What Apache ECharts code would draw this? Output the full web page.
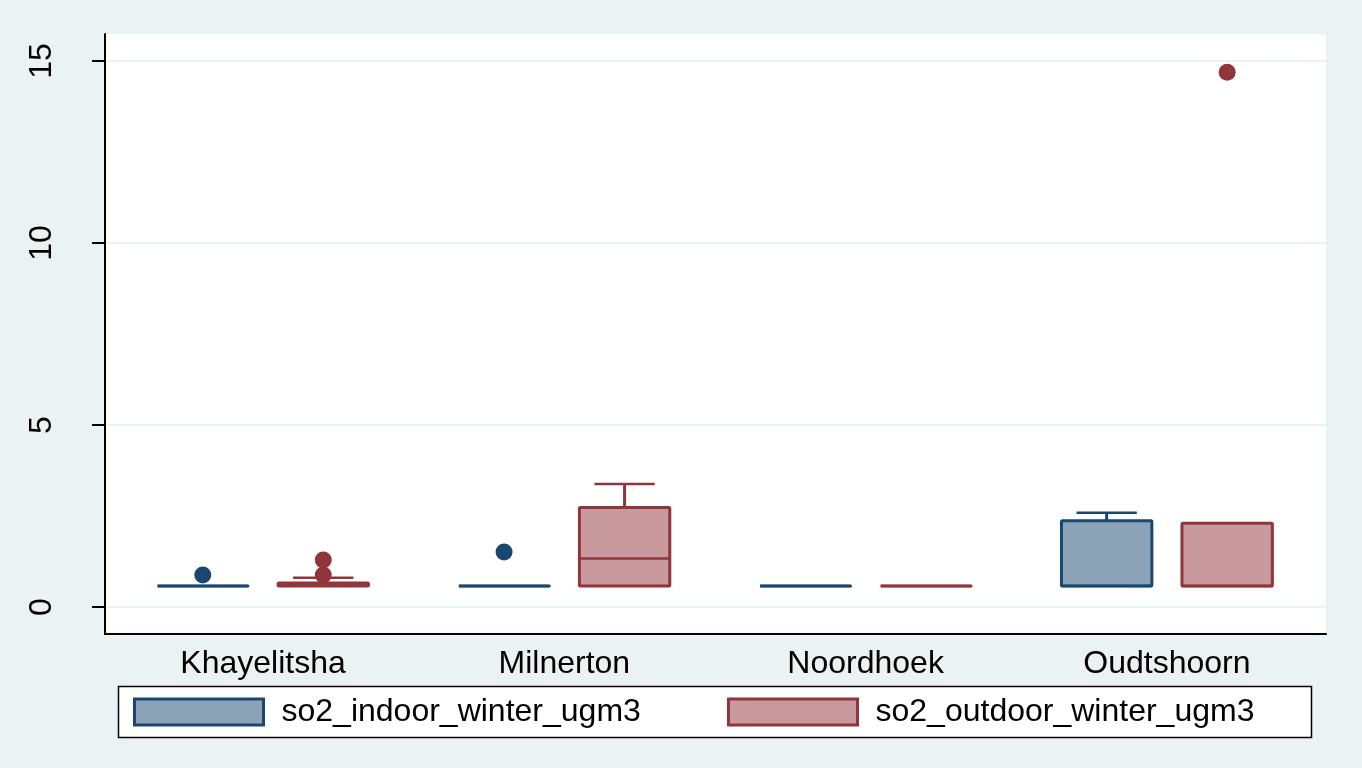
<!DOCTYPE html>
<html>
<head>
<meta charset="utf-8">
<script src="https://cdn.jsdelivr.net/npm/echarts@6/dist/echarts.min.js"></script>
<style>
html,body{margin:0;padding:0;background:#eaf2f3;}
#chart{width:1362px;height:768px;}
</style>
</head>
<body>
<div id="chart"></div>
<script>
// ---- data ----
var categories = ['Khayelitsha', 'Milnerton', 'Noordhoek', 'Oudtshoorn'];
var seriesNames = ['so2_indoor_winter_ugm3', 'so2_outdoor_winter_ugm3'];
// [min, q1, median, q3, max] per category
var indoorBox = [
  [0.58, 0.58, 0.58, 0.58, 0.58],
  [0.58, 0.58, 0.58, 0.58, 0.58],
  [0.58, 0.58, 0.58, 0.58, 0.58],
  [0.58, 0.58, 0.58, 2.37, 2.59]
];
var outdoorBox = [
  [0.58, 0.58, 0.60, 0.66, 0.80],
  [0.58, 0.58, 1.33, 2.73, 3.38],
  [0.58, 0.58, 0.58, 0.58, 0.58],
  [0.58, 0.58, 0.58, 2.30, 2.30]
];
// outliers: [categoryIndex, value]
var indoorOutliers = [[0, 0.88], [1, 1.51]];
var outdoorOutliers = [[0, 0.88], [0, 1.29], [3, 14.69]];
var yTicks = [0, 5, 10, 15];

// ---- styles ----
var NAVY = '#1a476f', NAVY_FILL = '#8ca3b7';
var MAROON = '#90353b', MAROON_FILL = '#c8999d';
var OFFSET = 0.2, HALF = 0.15, CAP = 0.1;
var FONT = '"Liberation Sans", Arial, sans-serif';

function boxData(arr) {
  return arr.map(function (b, i) { return [i + 1].concat(b); });
}
function outlierData(arr) {
  return arr.map(function (o) { return [o[0] + 1, o[1]]; });
}

function makeBoxRender(offset, stroke, fill) {
  return function (params, api) {
    var x = api.value(0) + offset;
    var vmin = api.value(1), q1 = api.value(2), med = api.value(3), q3 = api.value(4), vmax = api.value(5);
    var children = [];
    var lw = 3;
    if (vmax > q3) {
      var a = api.coord([x, q3]), b = api.coord([x, vmax]);
      children.push({type: 'line', shape: {x1: a[0], y1: a[1], x2: b[0], y2: b[1]}, style: {stroke: stroke, lineWidth: lw}});
      var c1 = api.coord([x - CAP, vmax]), c2 = api.coord([x + CAP, vmax]);
      children.push({type: 'line', shape: {x1: c1[0], y1: c1[1], x2: c2[0], y2: c2[1]}, style: {stroke: stroke, lineWidth: 2.5}});
    }
    if (vmin < q1) {
      var a2 = api.coord([x, q1]), b2 = api.coord([x, vmin]);
      children.push({type: 'line', shape: {x1: a2[0], y1: a2[1], x2: b2[0], y2: b2[1]}, style: {stroke: stroke, lineWidth: lw}});
      var d1 = api.coord([x - CAP, vmin]), d2 = api.coord([x + CAP, vmin]);
      children.push({type: 'line', shape: {x1: d1[0], y1: d1[1], x2: d2[0], y2: d2[1]}, style: {stroke: stroke, lineWidth: 2.5}});
    }
    var tl = api.coord([x - HALF, q3]), br = api.coord([x + HALF, q1]);
    children.push({type: 'rect', shape: {x: tl[0], y: tl[1], width: br[0] - tl[0], height: br[1] - tl[1], r: 1},
      style: {fill: fill, stroke: stroke, lineWidth: lw, lineJoin: 'round'}});
    var m1 = api.coord([x - HALF, med]), m2 = api.coord([x + HALF, med]);
    children.push({type: 'line', shape: {x1: m1[0], y1: m1[1], x2: m2[0], y2: m2[1]}, style: {stroke: stroke, lineWidth: 2.5}});
    return {type: 'group', children: children};
  };
}

function makeDotRender(offset, color) {
  return function (params, api) {
    var p = api.coord([api.value(0) + offset, api.value(1)]);
    return {type: 'circle', shape: {cx: p[0], cy: p[1], r: 8.5}, style: {fill: color}};
  };
}

var chart = echarts.init(document.getElementById('chart'), null, {renderer: 'canvas'});
chart.setOption({
  backgroundColor: '#eaf2f3',
  animation: false,
  textStyle: {fontFamily: FONT},
  grid: {left: 105, right: 36, top: 34, bottom: 134, show: true, backgroundColor: '#ffffff', borderWidth: 0},
  xAxis: {
    type: 'value', min: 0.4755, max: 4.528,
    axisLine: {show: true, onZero: false, lineStyle: {color: '#000', width: 2}},
    axisTick: {show: false},
    splitLine: {show: false},
    axisLabel: {
      customValues: [1, 2, 3, 4],
      formatter: function (v) { return categories[Math.round(v) - 1]; },
      color: '#000', fontSize: 32, margin: 14, fontFamily: FONT
    }
  },
  yAxis: {
    type: 'value', min: -0.742, max: 15.742,
    axisLine: {show: true, onZero: false, lineStyle: {color: '#000', width: 2}},
    axisTick: {show: true, customValues: yTicks, length: 13, lineStyle: {color: '#000', width: 2}},
    axisLabel: {customValues: yTicks, rotate: 90, color: '#000', fontSize: 32, margin: 47, fontFamily: FONT},
    splitLine: {show: true, lineStyle: {color: '#eaf2f3', width: 2}}
  },
  graphic: [{
    type: 'rect', z: 0,
    shape: {x: 118.5, y: 686.5, width: 1193, height: 51},
    style: {fill: '#ffffff', stroke: '#000', lineWidth: 1.5}
  }],
  legend: [{
    z: 5, left: 133, top: 696, padding: 0, icon: 'rect',
    itemWidth: 129, itemHeight: 26,
    textStyle: {fontSize: 32, color: '#000', fontFamily: FONT, padding: [2, 0, 0, 13]},
    data: [{name: seriesNames[0], itemStyle: {color: NAVY_FILL, borderColor: NAVY, borderWidth: 3}}]
  }, {
    z: 5, left: 727, top: 696, padding: 0, icon: 'rect',
    itemWidth: 129, itemHeight: 26,
    textStyle: {fontSize: 32, color: '#000', fontFamily: FONT, padding: [2, 0, 0, 13]},
    data: [{name: seriesNames[1], itemStyle: {color: MAROON_FILL, borderColor: MAROON, borderWidth: 3}}]
  }],
  series: [{
    name: seriesNames[0], type: 'custom',
    itemStyle: {color: NAVY_FILL, borderColor: NAVY, borderWidth: 3},
    renderItem: makeBoxRender(-OFFSET, NAVY, NAVY_FILL),
    encode: {x: 0, y: [1, 2, 3, 4, 5]},
    data: boxData(indoorBox)
  }, {
    name: seriesNames[1], type: 'custom',
    itemStyle: {color: MAROON_FILL, borderColor: MAROON, borderWidth: 3},
    renderItem: makeBoxRender(OFFSET, MAROON, MAROON_FILL),
    encode: {x: 0, y: [1, 2, 3, 4, 5]},
    data: boxData(outdoorBox)
  }, {
    name: seriesNames[0], type: 'custom',
    itemStyle: {color: NAVY},
    renderItem: makeDotRender(-OFFSET, NAVY),
    encode: {x: 0, y: 1},
    data: outlierData(indoorOutliers)
  }, {
    name: seriesNames[1], type: 'custom',
    itemStyle: {color: MAROON},
    renderItem: makeDotRender(OFFSET, MAROON),
    encode: {x: 0, y: 1},
    data: outlierData(outdoorOutliers)
  }]
});
</script>
</body>
</html>
